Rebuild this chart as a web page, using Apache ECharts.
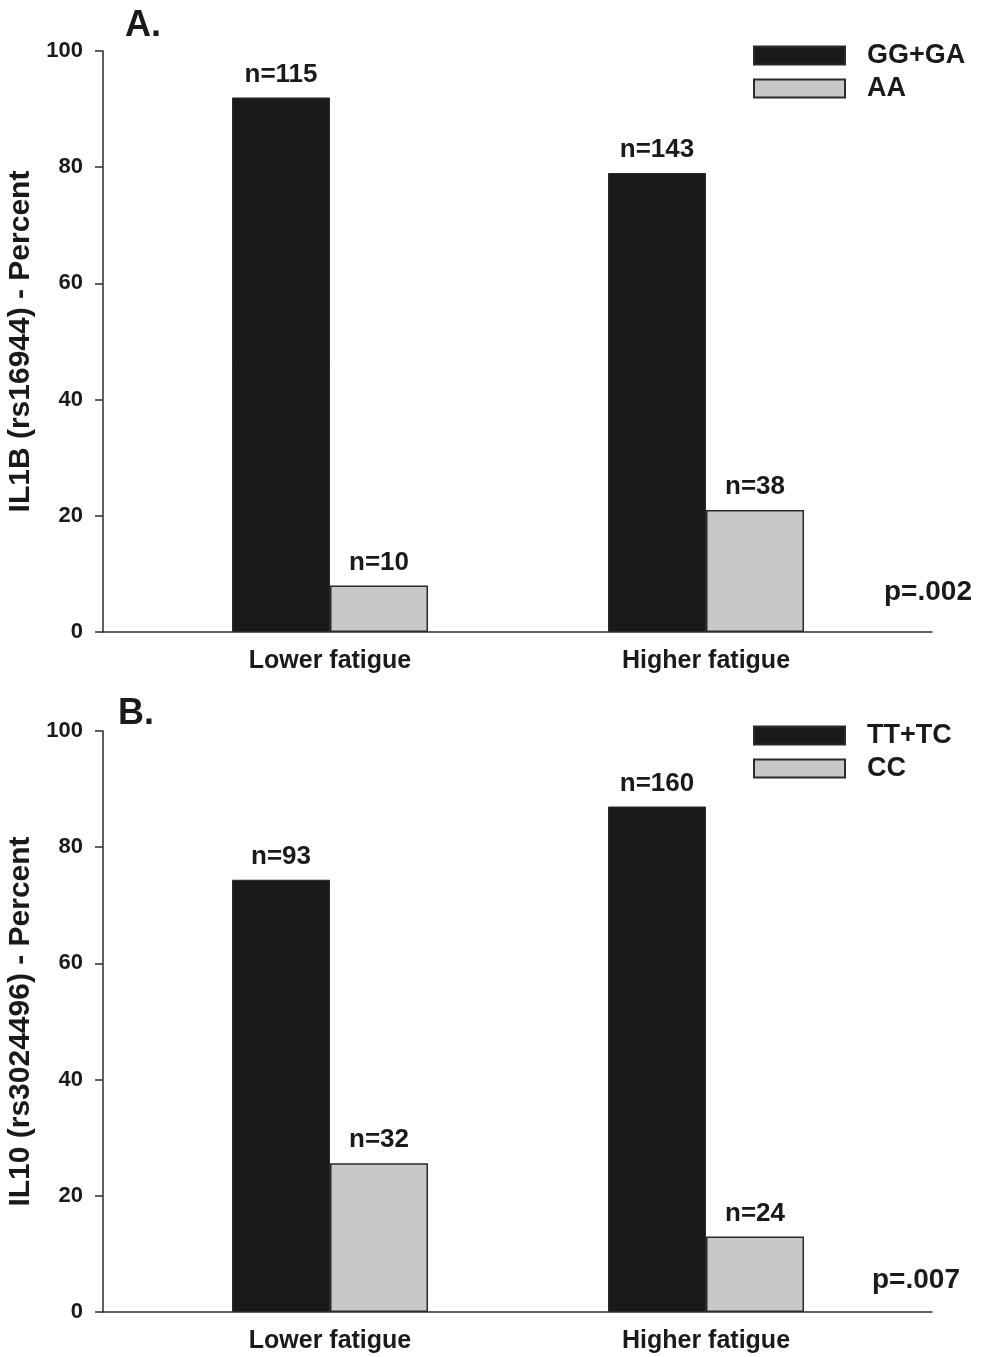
<!DOCTYPE html>
<html>
<head>
<meta charset="utf-8">
<script src="https://cdn.jsdelivr.net/npm/echarts@6/dist/echarts.min.js"></script>
<style>
  html, body { margin: 0; padding: 0; background: #fff; }
  #main { width: 983px; height: 1357px; }
</style>
</head>
<body>
<div id="main"></div>
<script>
// data (percent of patients in each fatigue group)
const categories = ['Lower fatigue', 'Higher fatigue']
const yTicks = [0, 20, 40, 60, 80, 100]

// panel A - IL1B rs16944
const il1bGroups = ['GG+GA', 'AA']
const il1bCommon = [92.0, 79.0]
const il1bRare = [8.0, 21.0]
const il1bCommonN = [115, 143]
const il1bRareN = [10, 38]

// panel B - IL10 rs3024496
const il10Groups = ['TT+TC', 'CC']
const il10Common = [74.4, 87.0]
const il10Rare = [25.6, 13.0]
const il10CommonN = [93, 160]
const il10RareN = [32, 24]

const FONT = "'Liberation Sans', Arial, sans-serif"
const INK = '#1a1a1a'
const LINE = '#2b2b2b'

const chart = echarts.init(document.getElementById('main'))

// each panel: an outer grid for the axis frame, an inner grid for the bars
function panel (idx, top, legendTop, yName, groups, common, rare, commonN, rareN) {
  const height = 581
  const g0 = idx * 2
  const g1 = idx * 2 + 1
  const grids = [
    { left: 103, width: 829, top: top, height: height, outerBoundsMode: 'none', containLabel: false },
    { left: 142, width: 752, top: top, height: height, outerBoundsMode: 'none', containLabel: false }
  ]
  const xAxes = [
    {
      gridIndex: g0, type: 'value', min: 0, max: 1,
      axisLine: { show: true, lineStyle: { color: LINE, width: 1.5 } },
      axisTick: { show: false }, axisLabel: { show: false }, splitLine: { show: false }
    },
    {
      gridIndex: g1, type: 'category', data: categories,
      axisLine: { show: false }, axisTick: { show: false },
      axisLabel: { margin: 17, color: INK, fontFamily: FONT, fontWeight: 'bold', fontSize: 25 }
    }
  ]
  const yAxes = [
    {
      gridIndex: g0, type: 'value', min: 0, max: 100, interval: 20,
      name: yName, nameLocation: 'middle', nameGap: 64, nameRotate: 90,
      nameTextStyle: { color: INK, fontFamily: FONT, fontWeight: 'bold', fontSize: 30 },
      axisLine: { show: true, lineStyle: { color: LINE, width: 1.5 } },
      axisTick: { show: true, inside: false, length: 8, lineStyle: { color: LINE, width: 1.5 } },
      axisLabel: {
        margin: 20, color: INK, fontFamily: FONT, fontWeight: 'bold', fontSize: 22,
        formatter: v => yTicks.includes(v) ? String(v) : ''
      },
      splitLine: { show: false }
    },
    {
      gridIndex: g1, type: 'value', min: 0, max: 100, show: false
    }
  ]
  const label = (nArr) => ({
    show: true, position: 'top', distance: 10,
    color: INK, fontFamily: FONT, fontWeight: 'bold', fontSize: 26,
    formatter: p => 'n=' + nArr[p.dataIndex]
  })
  const series = [
    {
      name: groups[0], type: 'bar', xAxisIndex: g1, yAxisIndex: g1,
      data: common, barWidth: 98, barGap: '0%',
      itemStyle: { color: INK, borderColor: LINE, borderWidth: 1 },
      label: label(commonN)
    },
    {
      name: groups[1], type: 'bar', xAxisIndex: g1, yAxisIndex: g1,
      data: rare, barWidth: 98, barGap: '0%',
      itemStyle: { color: '#c8c8c8', borderColor: LINE, borderWidth: 1.5 },
      label: label(rareN)
    }
  ]
  const legend = {
    data: groups, orient: 'vertical', left: 753, top: legendTop, padding: 0,
    icon: 'rect', itemWidth: 91, itemHeight: 18, itemGap: 6,
    textStyle: {
      color: INK, fontFamily: FONT, fontWeight: 'bold', fontSize: 27,
      padding: [0, 0, 0, 17]
    }
  }
  return { grids, xAxes, yAxes, series, legend }
}

const pa = panel(0, 51, 42, 'IL1B (rs16944) - Percent', il1bGroups, il1bCommon, il1bRare, il1bCommonN, il1bRareN)
const pb = panel(1, 731, 722, 'IL10 (rs3024496) - Percent', il10Groups, il10Common, il10Rare, il10CommonN, il10RareN)

const textStyle = { fill: INK, fontFamily: FONT, fontWeight: 'bold' }

const option = {
  animation: false,
  backgroundColor: '#fff',
  grid: pa.grids.concat(pb.grids),
  xAxis: pa.xAxes.concat(pb.xAxes),
  yAxis: pa.yAxes.concat(pb.yAxes),
  series: pa.series.concat(pb.series),
  legend: [pa.legend, pb.legend],
  graphic: [
    { type: 'text', left: 125, top: 8, style: Object.assign({ text: 'A.', fontSize: 36 }, textStyle) },
    { type: 'text', left: 118, top: 696, style: Object.assign({ text: 'B.', fontSize: 36 }, textStyle) },
    { type: 'text', left: 884, top: 578, style: Object.assign({ text: 'p=.002', fontSize: 28 }, textStyle) },
    { type: 'text', left: 872, top: 1266, style: Object.assign({ text: 'p=.007', fontSize: 28 }, textStyle) }
  ]
}

chart.setOption(option)
</script>
</body>
</html>
